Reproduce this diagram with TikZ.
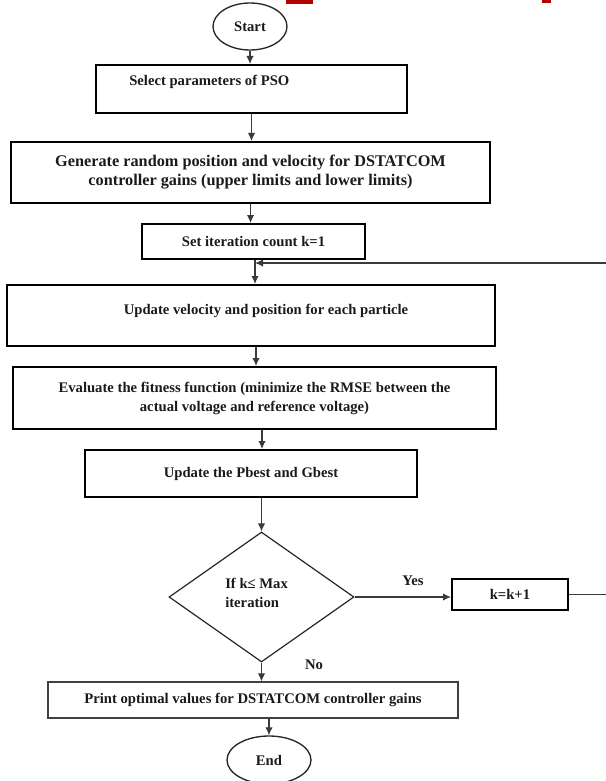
\documentclass[tikz,border=0pt]{standalone}
\usepackage{fontspec}
\setmainfont{Liberation Serif}
\usepackage{tikz}
\usetikzlibrary{shapes.geometric,arrows.meta}
\definecolor{ink}{HTML}{1A1A1A}
\definecolor{wire}{HTML}{3A3A3A}
\definecolor{heading}{HTML}{B00000}
\tikzset{
  box/.style={draw=black, line width=1.5pt, rectangle, inner sep=0pt, align=center},
  thinbox/.style={draw=black!75, line width=0.9pt, rectangle, inner sep=0pt, align=center},
  term/.style={draw=black!85, line width=1pt, ellipse, inner sep=0pt},
  decision/.style={draw=black!85, line width=0.9pt, diamond, inner sep=0pt},
  flow/.style={draw=wire, line width=0.8pt, -{Latex[length=6pt,width=5.5pt]}},
  wireline/.style={draw=wire, line width=0.8pt},
  lab/.style={inner sep=0pt},
  bigtext/.style={font=\fontsize{12.2}{14.25}\selectfont\bfseries},
  every node/.style={text=ink, font=\fontsize{11}{14.25}\selectfont\bfseries}
}
\begin{document}
\begin{tikzpicture}[x=0.75pt, y=-0.75pt]
  \useasboundingbox (0,0) rectangle (606,781);
  \fill[heading] (286,0) rectangle (313,4);
  \fill[heading] (542,0) rectangle (551,3);

  \node[term, minimum width=55.5pt, minimum height=35.25pt] (start) at (250,26.5) {Start};
  \node[box, minimum width=233.25pt, minimum height=36pt] (select) at (251.5,89) {};
  \node[lab, anchor=west] (selecttxt) at (129,82) {Select parameters of PSO};
  \node[box, bigtext, minimum width=359.25pt, minimum height=45.75pt] (generate) at (250.5,172.5)
    {Generate random position and velocity for DSTATCOM\\controller gains (upper limits and lower limits)};
  \node[box, minimum width=167.25pt, minimum height=26.25pt] (setk) at (253.5,241.5) {Set iteration count k=1};
  \node[box, minimum width=366pt, minimum height=45.75pt] (update) at (251,315.5) {};
  \node[lab] (updatetxt) at (266,311) {Update velocity and position for each particle};
  \node[box, minimum width=362.25pt, minimum height=46.5pt] (evaluate) at (254.5,398)
    {Evaluate the fitness function (minimize the RMSE between the\\actual voltage and reference voltage)};
  \node[box, minimum width=249pt, minimum height=35.25pt] (pbest) at (251,473.5) {Update the Pbest and Gbest};
  \node[decision, minimum width=138.75pt, minimum height=97.5pt] (cond) at (261.5,597) {};
  \node[lab, align=left, anchor=west] (condtxt) at (225,592.5) {If k≤ Max\\iteration};
  \node[box, minimum width=87pt, minimum height=23.25pt] (kinc) at (510,594.5) {k=k+1};
  \node[thinbox, minimum width=307.5pt, minimum height=27pt] (pout) at (253,700)
    {Print optimal values for DSTATCOM controller gains};
  \node[term, minimum width=63pt, minimum height=36pt] (stop) at (269,760) {End};
  \node[lab] (yes) at (413,581) {Yes};
  \node[lab] (no) at (314,665) {No};

  \coordinate (merge) at (255,263);
  \coordinate (backin) at (606,263);
  \coordinate (backout) at (606,596);

  \draw[flow] (start) -- (start |- select.north);
  \draw[flow] (select) -- (select |- generate.north);
  \draw[flow] (generate) -- (generate |- setk.north);
  \draw[wireline] (setk.south -| merge) -- (merge);
  \draw[flow] (merge) -- (merge |- update.north);
  \draw[flow] (backin) -- (merge);
  \draw[flow] (update.south -| 256,0) -- (256,0 |- evaluate.north);
  \draw[flow] (evaluate.south -| 262,0) -- (262,0 |- pbest.north);
  \draw[flow] (pbest.south -| cond.north) -- (cond.north);
  \draw[flow] (cond.east) -- (cond.east -| kinc.west);
  \draw[wireline] (kinc.east) -- (backout |- kinc.east);
  \draw[flow] (cond.south) -- (cond.south |- pout.north);
  \draw[flow] (pout.south -| stop.north) -- (stop.north);
\end{tikzpicture}
\end{document}
